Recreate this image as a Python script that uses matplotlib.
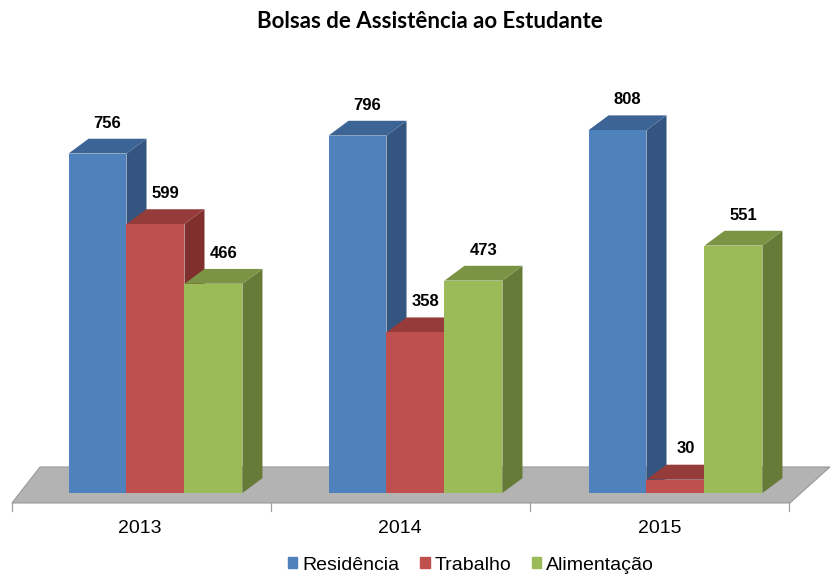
import matplotlib.pyplot as plt
import numpy as np
from matplotlib.patches import Patch

# data
years = ['2013', '2014', '2015']
series_names = ['Residência', 'Trabalho', 'Alimentação']
residencia = [756, 796, 808]
trabalho = [599, 358, 30]
alimentacao = [466, 473, 551]
title = 'Bolsas de Assistência ao Estudante'

front_colors = ['#4F81BD', '#C0504D', '#9BBB59']
top_colors = ['#3C6494', '#953C3A', '#7A9345']
side_colors = ['#345580', '#7F302E', '#667B38']

# geometry (x in category units, y in value units)
bar_w = 0.223
dep_x = 0.077   # 3d depth offset, horizontal
dep_y = 33.0    # 3d depth offset, vertical

fig = plt.figure(figsize=(8.32, 5.76), dpi=100)
ax = fig.add_axes([0, 0, 1, 1])
ax.set_xlim(-0.598, 2.602)
ax.set_ylim(-184.9, 1098)
ax.axis('off')

# floor
floor_x = [-0.552, 2.440, 2.594, -0.444]
floor_y = [-22.3, -22.3, 57.9, 57.9]
ax.fill(floor_x, floor_y, color='#B3B3B3', ec='#9A9A9A', lw=0.8, zorder=1)
for k in range(4):
    ax.plot([-0.552 + k * 0.996, -0.552 + k * 0.996], [-22.3, -40], color='#A0A0A0', lw=0.9, zorder=1)

values = [residencia, trabalho, alimentacao]
for i in range(len(years)):
    for j in range(3):
        v = values[j][i]
        x0 = i + (j - 1.5) * bar_w
        x1 = x0 + bar_w
        # side face
        ax.fill([x1, x1 + dep_x, x1 + dep_x, x1], [0, dep_y, v + dep_y, v],
                color=side_colors[j], lw=0, zorder=2)
        # top face
        ax.fill([x0, x1, x1 + dep_x, x0 + dep_x], [v, v, v + dep_y, v + dep_y],
                color=top_colors[j], lw=0, zorder=2)
        # front face
        ax.bar(x0, v, width=bar_w, align='edge', color=front_colors[j], lw=0, zorder=2)
        ax.text(x0 + bar_w / 2 + 0.038, v + 68, str(v), ha='center', va='center',
                fontsize=12, fontweight='bold', family='Liberation Sans', zorder=3)

for i, yr in enumerate(years):
    ax.text(i - 0.06, -79, yr, ha='center', va='center', fontsize=14, family='Liberation Sans')

ax.text(0.517, 0.962, title, transform=fig.transFigure, ha='center', va='center',
        fontsize=16, fontweight='bold', family='Lato')

handles = [Patch(color=c) for c in front_colors]
fig.legend(handles, series_names, loc='center', bbox_to_anchor=(0.566, 0.019), ncol=3, frameon=False,
           prop={'family': 'Liberation Sans', 'size': 14}, handlelength=0.5, handleheight=0.5,
           handletextpad=0.25, columnspacing=1.05, borderpad=0.1)

fig.savefig('out.png', dpi=100)
